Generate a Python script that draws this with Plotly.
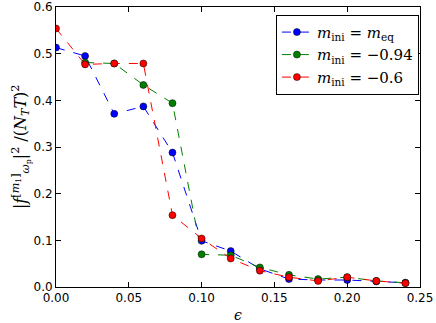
import plotly.graph_objects as go

eps = [0.00, 0.02, 0.04, 0.06, 0.08, 0.10, 0.12, 0.14, 0.16, 0.18, 0.20, 0.22, 0.24]
blue_y = [0.513, 0.495, 0.371, 0.387, 0.288, 0.099, 0.077, 0.039, 0.017, 0.015, 0.015, 0.012, 0.009]
green_eps = eps[1:]
green_y = [0.481, 0.479, 0.433, 0.394, 0.070, 0.068, 0.042, 0.026, 0.017, 0.021, 0.013, 0.009]
red_y = [0.554, 0.477, 0.479, 0.479, 0.154, 0.104, 0.061, 0.035, 0.021, 0.013, 0.021, 0.013, 0.008]

series = [
    (eps, blue_y, '#0000ff', '<i>m</i><sub>ini</sub> = <i>m</i><sub>eq</sub>'),
    (green_eps, green_y, '#008000', '<i>m</i><sub>ini</sub> = \u22120.94'),
    (eps, red_y, '#ff0000', '<i>m</i><sub>ini</sub> = \u22120.6'),
]

fig = go.Figure()
for xs, ys, col, name in series:
    fig.add_scatter(
        x=xs, y=ys, name=name,
        mode='lines+markers',
        line=dict(color=col, width=1, dash='dash'),
        marker=dict(color=col, size=7, line=dict(color='black', width=0.5)),
    )

axis_style = dict(
    showgrid=False, zeroline=False, automargin=False,
    showline=True, linecolor='black', linewidth=1, mirror='ticks',
    ticks='inside', ticklen=5, tickcolor='black',
    tickfont=dict(family='DejaVu Sans', size=12, color='black'),
)

fig.update_xaxes(range=[0, 0.25], dtick=0.05, tickformat='.2f', **axis_style)
fig.update_yaxes(range=[0, 0.6], dtick=0.1, tickformat='.1f', **axis_style)

# axis titles as annotations so they sit where the reference puts them
fig.add_annotation(
    text='<i>\u03f5</i>', xref='paper', yref='paper', x=0.5, y=-0.1,
    xanchor='center', yanchor='middle', showarrow=False,
    font=dict(family='DejaVu Serif', size=14, color='black'),
)
fig.add_annotation(
    text='|<i>f</i><sup>[<i>m</i><sub>1</sub>]</sup><sub><i>\u03c9</i><sub>p</sub></sub>|<sup>2</sup> /(<i>N<sub>T</sub>T</i>)<sup>2</sup>',
    xref='paper', yref='paper', x=-0.096, y=0.5, textangle=-90,
    xanchor='center', yanchor='middle', showarrow=False,
    font=dict(family='DejaVu Serif', size=16, color='black'),
)

fig.update_layout(
    width=436, height=323,
    margin=dict(l=56, r=16, t=7, b=36),
    plot_bgcolor='white', paper_bgcolor='white',
    font=dict(family='DejaVu Sans', color='black'),
    legend=dict(
        x=0.997, y=0.972, xanchor='right', yanchor='top',
        bordercolor='black', borderwidth=1, bgcolor='white',
        font=dict(family='DejaVu Serif', size=15),
        itemwidth=30,
    ),
)

# drop the browser's default page margin so the figure sits at the top-left
fig.write_html("out.html", config={'displayModeBar': False},
               post_script="document.body.style.margin='0px';")
